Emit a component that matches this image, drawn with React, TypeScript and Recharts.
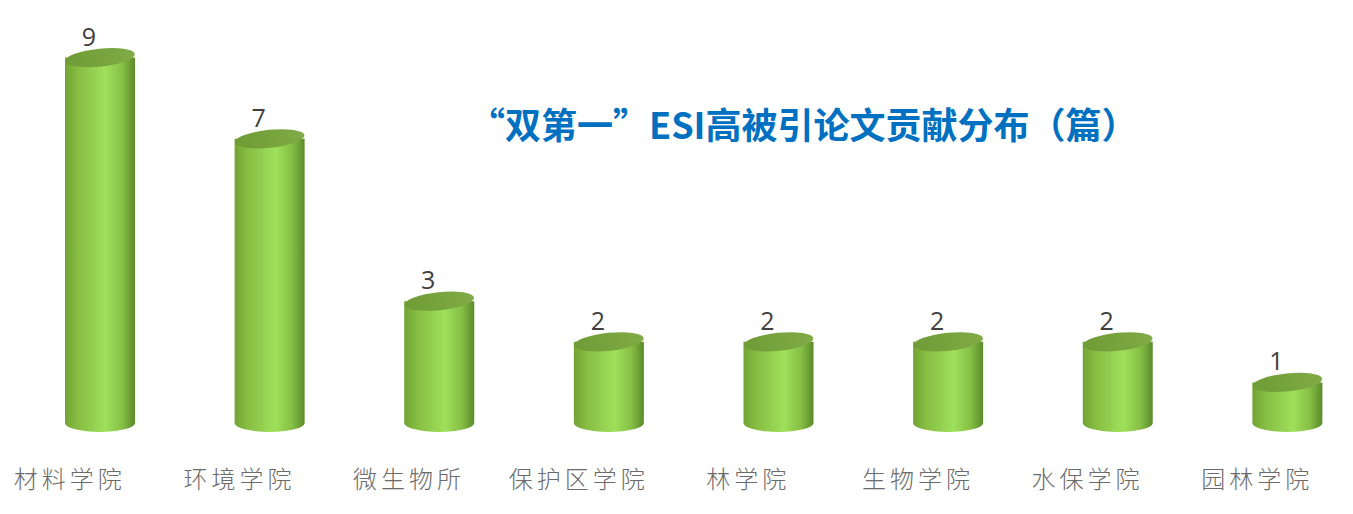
import { BarChart, Bar, XAxis, YAxis, LabelList } from 'recharts'

const colleges = ['材料学院', '环境学院', '微生物所', '保护区学院', '林学院', '生物学院', '水保学院', '园林学院']
const papers = [9, 7, 3, 2, 2, 2, 2, 1]

const data = colleges.map((name, i) => ({ name, value: papers[i] }))

const TILT = -6

function Cylinder(props: any) {
  const { x, y, width, height } = props
  if (!width || height == null) return null
  const cx = x + width / 2
  const rx = width / 2
  const ry = 9
  const bottom = y + height
  const body = `M${x},${y} L${x},${bottom} A${rx},${ry} 0 0 0 ${x + width},${bottom} L${x + width},${y} Z`
  return (
    <g>
      <path d={body} fill="url(#cylBody)" />
      <ellipse cx={cx} cy={y} rx={rx} ry={ry} fill="url(#cylTop)" transform={`rotate(${TILT} ${cx} ${y})`} />
    </g>
  )
}

function ValueLabel(props: any) {
  const { x, y, width, value } = props
  return (
    <text x={x + width / 2 - 11} y={y - 12} textAnchor="middle" fontSize={25} fill="#404040" fontFamily="'Open Sans', 'Liberation Sans', sans-serif">
      {value}
    </text>
  )
}

function CollegeTick(props: any) {
  const { x, y, payload } = props
  return (
    <text x={x - 30} y={y} dy={57} textAnchor="middle" fontSize={24} letterSpacing={4} fill="#6b6b6b" fontWeight={300} fontFamily="'Noto Sans CJK SC', sans-serif">
      {payload.value}
    </text>
  )
}

export default function App() {
  return (
    <div style={{ position: 'absolute', left: 0, top: 0, width: 1353, height: 514, overflow: 'hidden', background: '#fff' }}>
      <BarChart width={1380} height={514} data={data} margin={{ top: 17, right: 8, bottom: 0, left: 15 }} barSize={70}>
        <defs>
          <linearGradient id="cylBody" x1="0" y1="0" x2="1" y2="0">
            <stop offset="0%" stopColor="#72a334" />
            <stop offset="18%" stopColor="#86bd42" />
            <stop offset="58%" stopColor="#9fe05b" />
            <stop offset="82%" stopColor="#86bf45" />
            <stop offset="100%" stopColor="#5b8b2a" />
          </linearGradient>
          <linearGradient id="cylTop" x1="0" y1="0" x2="1" y2="0">
            <stop offset="0%" stopColor="#6f9c36" />
            <stop offset="100%" stopColor="#80ab46" />
          </linearGradient>
        </defs>
        <XAxis dataKey="name" axisLine={false} tickLine={false} height={91} interval={0} tick={<CollegeTick />} />
        <YAxis hide domain={[0, 10]} />
        <Bar dataKey="value" shape={<Cylinder />} isAnimationActive={false}>
          <LabelList dataKey="value" content={<ValueLabel />} />
        </Bar>
      </BarChart>
      <div
        style={{
          position: 'absolute',
          left: 469,
          top: 105,
          fontSize: 36,
          fontWeight: 700,
          color: '#0070c0',
          lineHeight: 1,
          whiteSpace: 'nowrap',
          fontFamily: "'Noto Sans CJK SC', sans-serif",
        }}
      >
        “双第一”ESI高被引论文贡献分布（篇）
      </div>
    </div>
  )
}
